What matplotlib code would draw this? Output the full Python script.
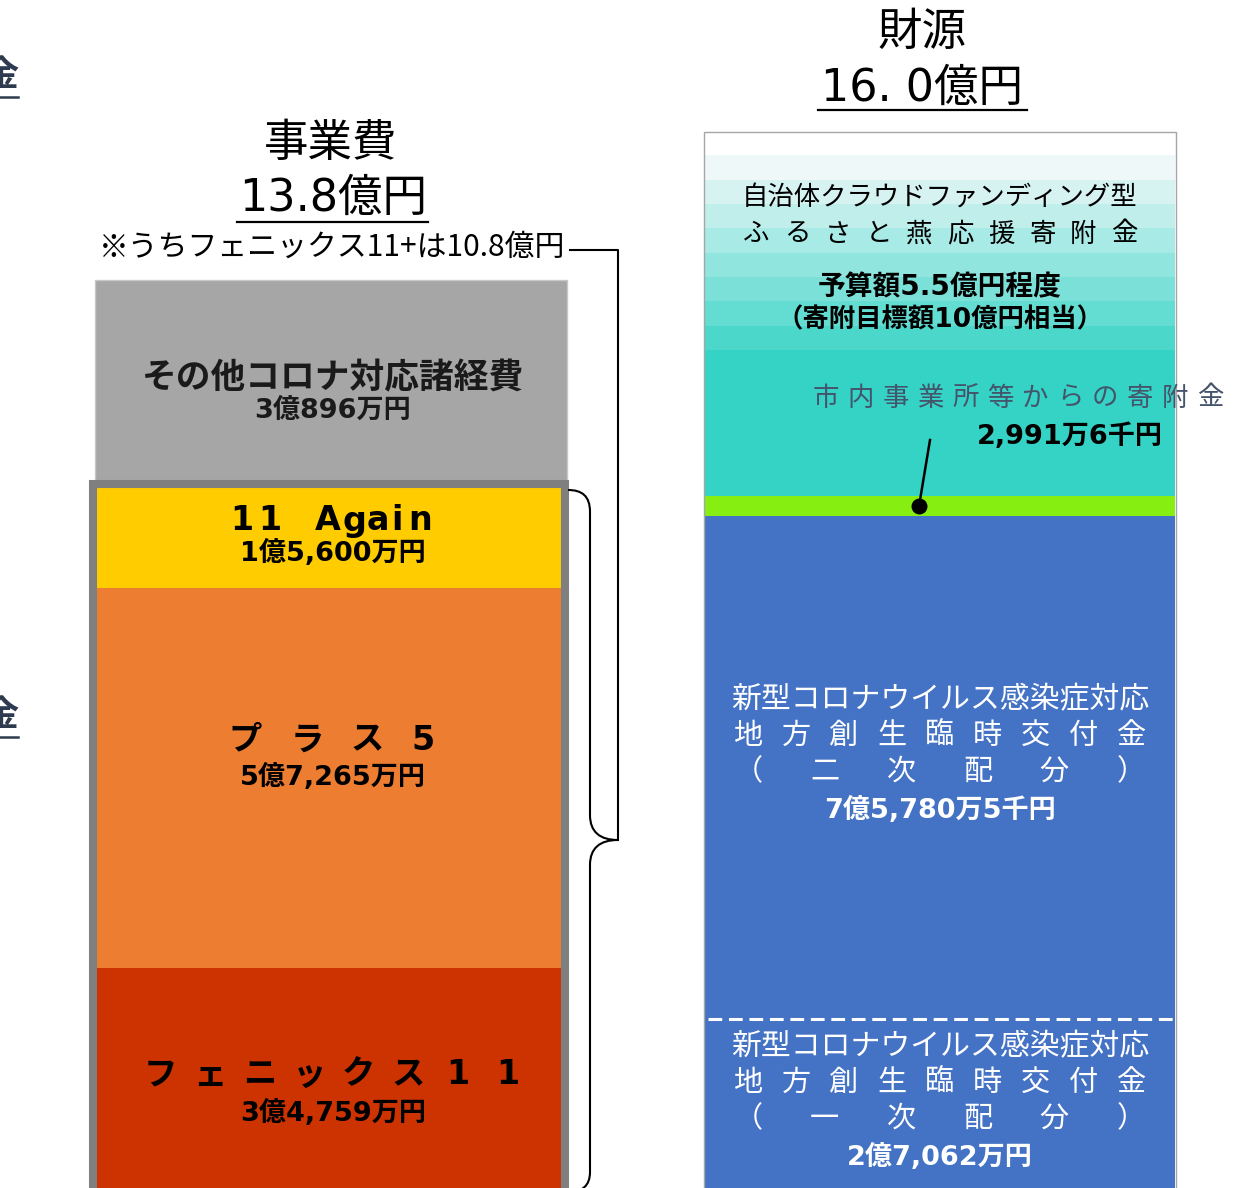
# -*- coding: utf-8 -*-
# 事業費と財源の比較（積み上げ棒）
import numpy as np
import matplotlib.pyplot as plt
from matplotlib.patches import Rectangle, PathPatch
from matplotlib.path import Path
from matplotlib.colors import to_rgb

plt.rcParams['font.family'] = ['Noto Sans CJK JP', 'DejaVu Sans']
NUM = ['DejaVu Sans', 'Noto Sans CJK JP']  # 数字は幅の広いフォント

# データ（単位：億円）
cost_labels = ['フェニックス11', 'プラス5', '11 Again', 'その他コロナ対応諸経費']
cost_values = [3.4759, 5.7265, 1.56, 3.0896]
cost_amounts = ['3億4,759万円', '5億7,265万円', '1億5,600万円', '3億896万円']
cost_colors = ['#CC3300', '#ED7D31', '#FFCC00', '#A6A6A6']

fund_labels = ['一次配分', '二次配分', '市内事業所等からの寄附金', 'ふるさと燕応援寄附金']
fund_values = [2.7062, 7.57805, 0.29916, 5.5]
fund_amounts = ['2億7,062万円', '7億5,780万5千円', '2,991万6千円', '予算額5.5億円程度']
fund_colors = ['#4472C4', '#4472C4', '#86EE11', '#35D3C5']

W, H = 1234, 1188
PX = 66.3    # 1億円あたりのピクセル
BASE = 1198  # 棒の底（ピクセル）

fig = plt.figure(figsize=(W / 100, H / 100), dpi=100)
ax = fig.add_axes([0, 0, 1, 1])
ax.axis('off')
ov = fig.add_axes([0, 0, 1, 1])
ov.axis('off')
ov.patch.set_visible(False)


def spread(chars, xs, y, **kw):
    for c, x in zip(chars, xs):
        ov.text(x, y, c, ha='center', va='center', **kw)


def spread_lin(chars, x0, x1, y, **kw):
    spread(chars, list(np.linspace(x0, x1, len(chars))), y, **kw)


# ---- 事業費 ----
cost_bottoms = np.concatenate([[0], np.cumsum(cost_values)[:-1]])
for i in range(3):
    ax.bar(329, cost_values[i], bottom=cost_bottoms[i], width=464,
           color=cost_colors[i], linewidth=0, zorder=1)
ax.bar(331, cost_values[3], bottom=cost_bottoms[3], width=472,
       color=cost_colors[3], edgecolor='#C8C8C8', linewidth=1, zorder=1)
ax.add_patch(Rectangle((93, -1), 471.5, cost_bottoms[3] + 1, fill=False,
                       edgecolor='#7F7F7F', linewidth=5.8, zorder=3))

# ---- 財源 ----
fund_bottoms = np.concatenate([[0], np.cumsum(fund_values)[:-1]])
bars = []
for i in range(4):
    b = ax.bar(940, fund_values[i], bottom=fund_bottoms[i], width=470,
               color=fund_colors[i], linewidth=0, zorder=1)
    bars.append(b)

# 上部のグラデーション
teal = np.array(to_rgb(fund_colors[3]))
c0 = np.array(to_rgb('#EEF8F9'))
n_band = 15
rows = []
for k in range(n_band):
    if k == 0:
        rows.append(np.array([1.0, 1.0, 1.0]))
    else:
        t = min((k - 1) / 8.0, 1.0)
        rows.append(c0 * (1 - t) + teal * t)
grad = np.array(rows).reshape(n_band, 1, 3)
im = ax.imshow(grad, extent=(705, 1175, fund_bottoms[3], fund_bottoms[3] + fund_values[3]),
               aspect='auto', interpolation='nearest', zorder=2)
im.set_clip_path(bars[3].patches[0])

ax.add_patch(Rectangle((703.5, 0), 472, sum(fund_values), fill=False,
                       edgecolor='#A6A6A6', linewidth=1, zorder=4))

# 一次／二次の境界
ax.plot([708, 1176], [fund_bottoms[1], fund_bottoms[1]], color='white',
        linewidth=2.2, dashes=(4.5, 2.2), zorder=3)

# 寄附金の引出線
g_mid = fund_bottoms[2] + fund_values[2] / 2
ax.plot([919, 930], [g_mid, (BASE - 440) / PX], color='black', linewidth=1.8, zorder=5)
ax.scatter([919], [g_mid], s=110, color='black', zorder=6)

ax.set_xlim(0, W)
ax.set_ylim((BASE - H) / PX, BASE / PX)
ov.set_xlim(0, W)
ov.set_ylim(H, 0)

# ---- タイトル ----
ov.text(331, 143, '事業費', fontsize=32, ha='center', va='center')
ov.text(333, 198, '13.8億円', fontsize=32, family=NUM, ha='center', va='center')
ov.plot([237, 428], [222, 222], color='black', linewidth=1.6)
ov.text(332, 247, '※うちフェニックス11+は10.8億円', fontsize=21.5, ha='center', va='center')

ov.text(922, 32, '財源', fontsize=32, ha='center', va='center')
ov.text(922, 88, '16. 0億円', fontsize=32, family=NUM, ha='center', va='center')
ov.plot([818, 1027], [110, 110], color='black', linewidth=1.6)

# 左端の切れた文字
for yy in [75, 715]:
    ov.text(0, yy, '金', fontsize=26, fontweight='bold', color='#2E3A4F',
            ha='center', va='center')
    ov.plot([0, 18], [yy + 22, yy + 22], color='#2E3A4F', linewidth=1.8)

# ---- 中括弧と線 ----
ov.plot([570, 618, 618], [250, 250, 840], color='black', linewidth=1.5)
verts = [(568, 490), (582, 490), (590, 496), (590, 512),
         (590, 815),
         (590, 832), (600, 840), (618, 840),
         (600, 840), (590, 848), (590, 865),
         (590, 1172),
         (590, 1186), (582, 1192), (568, 1192)]
codes = [Path.MOVETO, Path.CURVE4, Path.CURVE4, Path.CURVE4,
         Path.LINETO,
         Path.CURVE4, Path.CURVE4, Path.CURVE4,
         Path.CURVE4, Path.CURVE4, Path.CURVE4,
         Path.LINETO,
         Path.CURVE4, Path.CURVE4, Path.CURVE4]
ov.add_patch(PathPatch(Path(verts, codes), fill=False, edgecolor='black', linewidth=1.5))

# ---- 事業費ラベル ----
ov.text(333, 378, cost_labels[3], fontsize=25, fontweight='bold', color='#1A1A1A',
        ha='center', va='center')
ov.text(333, 411, cost_amounts[3], fontsize=19.5, fontweight='bold', family=NUM,
        color='#1A1A1A', ha='center', va='center')

spread('11', [242, 270], 521, fontsize=24, fontweight='bold', family=NUM)
spread('Again', [328, 354, 378, 397, 420], 521, fontsize=24, fontweight='bold', family=NUM)
ov.text(333, 553, cost_amounts[2], fontsize=19.5, fontweight='bold', family=NUM,
        ha='center', va='center')

spread('プラス5', [245, 307, 367, 423], 740, fontsize=24, fontweight='bold', family=NUM)
ov.text(333, 777, cost_amounts[1], fontsize=19.5, fontweight='bold', family=NUM,
        ha='center', va='center')

spread_lin('フェニックス11', 160, 508, 1075, fontsize=24, fontweight='bold', family=NUM)
ov.text(333, 1113, cost_amounts[0], fontsize=19.5, fontweight='bold', family=NUM,
        ha='center', va='center')

# ---- 財源ラベル ----
ov.text(940, 197, '自治体クラウドファンディング型', fontsize=19, ha='center', va='center')
spread_lin('ふるさと燕応援寄附金', 756, 1124, 234, fontsize=19)
ov.text(940, 287, fund_amounts[3], fontsize=20, fontweight='bold', family=NUM,
        ha='center', va='center')
ov.text(940, 320, '（寄附目標額10億円相当）', fontsize=19, fontweight='bold', family=NUM,
        ha='center', va='center')

spread_lin('市内事業所等からの寄附金', 826, 1210, 398, fontsize=19, color='#44546A')
ov.text(1070, 437, fund_amounts[2], fontsize=19.5, fontweight='bold', family=NUM,
        ha='center', va='center')

for (y0, kind, amount) in [(700, '二', fund_amounts[1]), (1047, '一', fund_amounts[0])]:
    ov.text(940, y0, '新型コロナウイルス感染症対応', fontsize=21.5, color='white',
            ha='center', va='center')
    spread_lin('地方創生臨時交付金', 748, 1131, y0 + 36, fontsize=21, color='white')
    spread_lin('（' + kind + '次配分）', 748, 1131, y0 + 72, fontsize=21, color='white')
    ov.text(940, y0 + 110, amount, fontsize=19.5, fontweight='bold', family=NUM,
            color='white', ha='center', va='center')

fig.savefig('out.png', dpi=100)
